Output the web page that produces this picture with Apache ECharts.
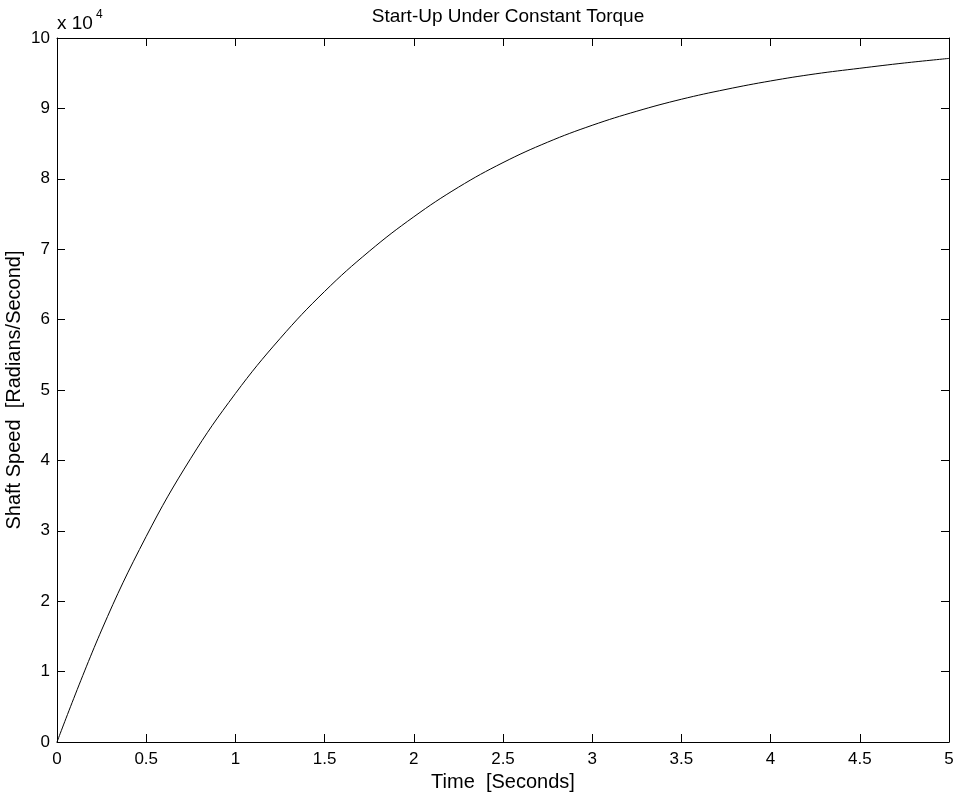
<!DOCTYPE html>
<html>
<head>
<meta charset="utf-8">
<title>Start-Up Under Constant Torque</title>
<script src="https://cdn.jsdelivr.net/npm/echarts@6/dist/echarts.min.js"></script>
<style>
  html, body { margin: 0; padding: 0; background: #fff; }
  #main { width: 956px; height: 798px; }
</style>
</head>
<body>
<div id="main"></div>
<script>
// time axis (seconds) and shaft speed (rad/s)
var timeSec = [0, 0.25, 0.5, 0.75, 1, 1.25, 1.5, 1.75, 2, 2.25, 2.5, 2.75, 3, 3.25, 3.5, 3.75, 4, 4.25, 4.5, 4.75, 5]
var shaftSpeed = [0, 15900, 29200, 40300, 49500, 57300, 64000, 69700, 74600, 78800, 82300, 85200,
  87600, 89600, 91300, 92700, 93900, 94900, 95700, 96450, 97100]

var titleText = 'Start-Up Under Constant Torque'
var xLabel = 'Time  [Seconds]'
var yLabel = 'Shaft Speed  [Radians/Second]'

var font = 'Liberation Sans, Arial, Helvetica, sans-serif'

var chart = echarts.init(document.getElementById('main'))

var points = []
for (var i = 0; i < timeSec.length; i++) {
  points.push([timeSec[i], shaftSpeed[i]])
}

// plain axis style, ticks pointing inward like the original
var baseAxis = {
  axisLine: {show: true, onZero: false, lineStyle: {color: '#000', width: 1}},
  axisTick: {show: true, inside: true, length: 8, lineStyle: {color: '#000', width: 1}},
  splitLine: {show: false}
}

chart.setOption({
  animation: false,
  backgroundColor: '#fff',
  title: {
    text: titleText,
    left: 503,
    textAlign: 'center',
    top: 2,
    textStyle: {fontFamily: font, fontSize: 19, fontWeight: 'normal', color: '#000'}
  },
  grid: {left: 57, right: 7, top: 38, bottom: 56, outerBoundsMode: 'none'},
  xAxis: [
    Object.assign({}, baseAxis, {
      type: 'value', min: 0, max: 5, interval: 0.5, position: 'bottom',
      name: xLabel, nameLocation: 'middle', nameGap: 30,
      nameTextStyle: {fontFamily: font, fontSize: 20, color: '#000'},
      axisLabel: {fontFamily: font, fontSize: 17, color: '#000', margin: 9}
    }),
    Object.assign({}, baseAxis, {
      type: 'value', min: 0, max: 5, interval: 0.5, position: 'top',
      axisLabel: {show: false}
    })
  ],
  yAxis: [
    Object.assign({}, baseAxis, {
      type: 'value', min: 0, max: 100000, interval: 10000, position: 'left',
      name: yLabel, nameLocation: 'middle', nameGap: 33, nameRotate: 90,
      nameMoveOverlap: false,
      nameTextStyle: {fontFamily: font, fontSize: 20, color: '#000'},
      axisLabel: {
        fontFamily: font, fontSize: 17, color: '#000', margin: 7,
        formatter: function (v) { return String(v / 10000) }
      }
    }),
    Object.assign({}, baseAxis, {
      type: 'value', min: 0, max: 100000, interval: 10000, position: 'right',
      axisLabel: {show: false}
    })
  ],
  graphic: [
    {type: 'text', left: 57, bottom: 798 - 33,
      style: {text: 'x 10', font: '19px ' + font, fill: '#000'}},
    {type: 'text', left: 96, top: 9,
      style: {text: '4', font: '12px ' + font, fill: '#000'}}
  ],
  series: [{
    type: 'line',
    data: points,
    smooth: 0.4,
    symbol: 'none',
    lineStyle: {color: '#000', width: 1}
  }]
})
</script>
</body>
</html>
